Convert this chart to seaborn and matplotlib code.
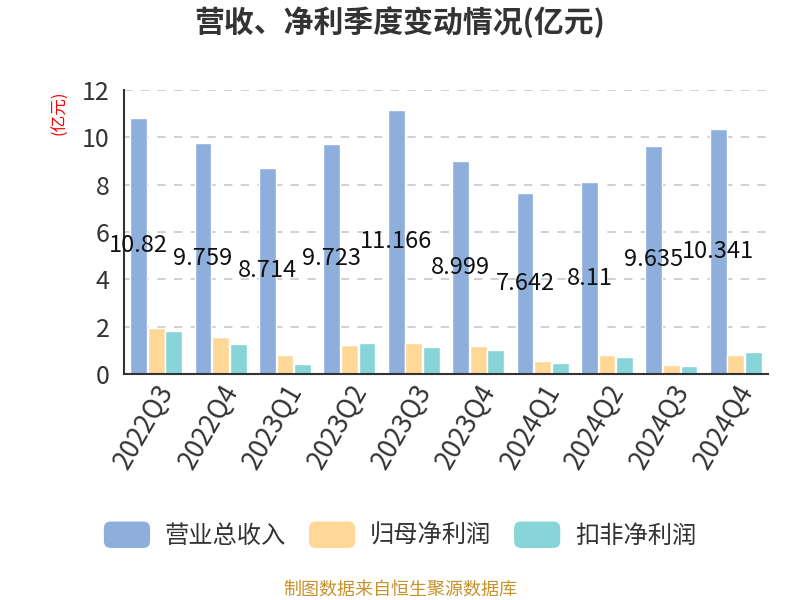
import pandas as pd
import matplotlib
matplotlib.use('Agg')
import matplotlib.pyplot as plt
import seaborn as sns
from matplotlib.patches import FancyBboxPatch
from matplotlib.legend_handler import HandlerPatch

quarters = ['2022Q3', '2022Q4', '2023Q1', '2023Q2', '2023Q3',
            '2023Q4', '2024Q1', '2024Q2', '2024Q3', '2024Q4']
revenue = [10.82, 9.759, 8.714, 9.723, 11.166, 8.999, 7.642, 8.11, 9.635, 10.341]
net_profit = [1.93, 1.56, 0.82, 1.24, 1.31, 1.18, 0.56, 0.82, 0.37, 0.82]
deducted_profit = [1.82, 1.25, 0.44, 1.30, 1.14, 1.03, 0.45, 0.71, 0.32, 0.94]
series_names = ['营业总收入', '归母净利润', '扣非净利润']
colors = ['#8eaedc', '#ffd898', '#87d5d8']

df = pd.DataFrame({'quarter': quarters * 3,
                   'value': revenue + net_profit + deducted_profit,
                   'series': [s for s in series_names for _ in quarters]})

sns.set_style('white')
plt.rcParams['font.family'] = ['Noto Sans CJK SC', 'DejaVu Sans']


class RoundHandler(HandlerPatch):
    def create_artists(self, legend, orig_handle, xdescent, ydescent,
                       width, height, fontsize, trans):
        p = FancyBboxPatch((-xdescent, -ydescent), width, height,
                           boxstyle='round,pad=0,rounding_size=5',
                           facecolor=orig_handle.get_facecolor(),
                           edgecolor='none', transform=trans)
        return [p]


fig = plt.figure(figsize=(8, 6), dpi=100)
ax = fig.add_axes([0.155, 0.3767, 0.805, 0.4733])
sns.barplot(data=df, x='quarter', y='value', hue='series', palette=colors,
            saturation=1, width=0.82, gap=0.05, ax=ax, legend=True)

ax.bar_label(ax.containers[0], labels=[f'{v:g}' for v in revenue],
             label_type='center', fontsize=17, color='#111111')

ax.set_ylim(0, 12)
ax.set_yticks(range(0, 13, 2))
ax.set_xlim(-0.5, len(quarters) - 0.5)
ax.yaxis.grid(True, linestyle=(0, (5, 5)), color='#c8c8c8', linewidth=1.2)
ax.set_axisbelow(True)
for s in ['top', 'right']:
    ax.spines[s].set_visible(False)
for s in ['left', 'bottom']:
    ax.spines[s].set_color('#333333')
    ax.spines[s].set_linewidth(1.5)
ax.set_xticks([i - 0.5 for i in range(len(quarters) + 1)], minor=True)
ax.tick_params(axis='x', which='minor', length=7, width=1.5, color='#333333')
ax.tick_params(axis='x', which='major', length=0, labelsize=19, labelcolor='#333333', pad=4)
ax.tick_params(axis='y', length=7, width=1.5, color='#333333', labelsize=18, labelcolor='#333333')
ax.set_xticks(range(len(quarters)))
ax.set_xticklabels(quarters, rotation=60, ha='right', rotation_mode='anchor')
ax.set_xlabel('')
ax.set_ylabel('(亿元)', color='red', fontsize=12)
ax.yaxis.set_label_coords(-0.087, 0.92)

handles, labels = ax.get_legend_handles_labels()
ax.legend(handles, labels, loc='center', bbox_to_anchor=(0.5, 0.108),
          bbox_transform=fig.transFigure, ncol=3, frameon=False, fontsize=17.5,
          handlelength=1.9, handleheight=1.3, handletextpad=0.6, columnspacing=0.95,
          handler_map={h: RoundHandler() for h in handles})
for t in ax.get_legend().get_texts():
    t.set_color('#333333')

fig.text(0.5, 0.963, '营收、净利季度变动情况(亿元)', ha='center', va='center',
         fontsize=21.5, fontweight='bold', color='#333333')
fig.text(0.5, 0.017, '制图数据来自恒生聚源数据库', ha='center', va='center',
         fontsize=13, color='#c8922a')

fig.savefig('out.png', dpi=100)
